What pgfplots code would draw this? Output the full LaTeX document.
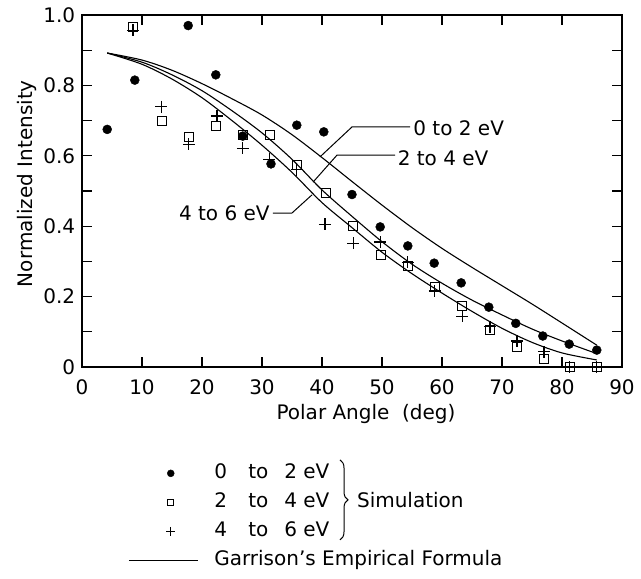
\documentclass[border=0pt]{standalone}
\usepackage{fontspec}
\setmainfont{DejaVu Sans}
\usepackage{pgfplots}
\pgfplotsset{compat=1.18}
\usetikzlibrary{decorations.pathreplacing}

% simulated intensities, three energy windows
\pgfplotstableread{
x y
4.2 0.675
8.8 0.815
17.7 0.970
22.3 0.830
26.8 0.656
31.5 0.577
35.8 0.687
40.3 0.668
45.0 0.490
49.7 0.398
54.3 0.344
58.7 0.295
63.2 0.239
67.8 0.170
72.3 0.124
76.8 0.088
81.2 0.065
85.8 0.048
}\lowE
\pgfplotstableread{
x y
8.5 0.966
13.3 0.700
17.8 0.652
22.3 0.685
26.8 0.658
31.3 0.660
35.8 0.574
40.7 0.494
45.2 0.400
49.8 0.318
54.3 0.286
58.8 0.226
63.3 0.173
68.0 0.104
72.5 0.057
77.0 0.023
81.3 0.000
85.8 0.000
}\midE
\pgfplotstableread{
x y
8.5 0.957
13.2 0.740
17.8 0.633
22.5 0.713
26.8 0.622
31.2 0.590
35.8 0.560
40.5 0.405
45.2 0.352
49.7 0.355
54.3 0.298
58.8 0.216
63.4 0.144
68.0 0.114
72.5 0.074
77.0 0.043
81.3 0.000
85.8 0.000
}\highE

\begin{document}
\fontsize{20}{24}\selectfont
\begin{tikzpicture}
\path[use as bounding box] (0,0) rectangle (641pt,579pt);
\begin{axis}[
  at={(82pt,212pt)}, anchor=south west,
  scale only axis, width=540pt, height=352pt,
  xmin=0, xmax=90, ymin=0, ymax=1,
  xtick={0,10,...,90},
  ytick={0,0.2,0.4,0.6,0.8,1.0},
  yticklabels={0,0.2,0.4,0.6,0.8,1.0},
  minor ytick={0.1,0.3,0.5,0.7,0.9},
  /pgf/number format/assume math mode=true,
  tick label style={font=\fontsize{20}{24}\selectfont},
  xticklabel style={yshift=-6pt},
  tick align=inside,
  major tick length=10pt, minor tick length=10pt,
  every tick/.style={black, line width=1.1pt},
  axis line style={line width=1.5pt},
  clip=false,
  xlabel={Polar Angle\ \ (deg)},
  ylabel={Normalized Intensity},
  label style={font=\fontsize{20}{24}\selectfont},
  xlabel style={at={(axis description cs:0.526,-0.134)}, anchor=center},
  ylabel style={at={(axis description cs:-0.102,0.521)}, anchor=center},
  legend style={at={(axis description cs:0.0852,-0.276)}, anchor=north west,
    draw=none, fill=none, inner sep=0pt, row sep=11pt, column sep=16pt,
    font=\fontsize{20}{24}\selectfont, cells={anchor=west},
    nodes={inner sep=0pt, text height=14pt, text depth=4pt}},
]

\addplot[only marks, mark=*, mark size=4.5pt, black,
  legend image code/.code={\draw[black, mark=*, mark size=3.5pt, only marks] plot coordinates {(8.5pt,0pt)};}]
  table[x=x, y=y] {\lowE};
\addlegendentry{\makebox[34pt][l]{0}\makebox[36pt][l]{to}2 eV}

\addplot[only marks, mark=square, mark size=4.5pt, black, mark options={line width=1pt},
  legend image code/.code={\draw[black, mark=square, mark size=3.2pt, only marks, line width=0.9pt] plot coordinates {(8.5pt,0pt)};}]
  table[x=x, y=y] {\midE};
\addlegendentry{\makebox[34pt][l]{2}\makebox[36pt][l]{to}4 eV}

\addplot[only marks, mark=+, mark size=6pt, black, mark options={line width=1.1pt},
  legend image code/.code={\draw[black, mark=+, mark size=4.5pt, only marks, line width=1pt] plot coordinates {(8.5pt,0pt)};}]
  table[x=x, y=y] {\highE};
\addlegendentry{\makebox[34pt][l]{4}\makebox[36pt][l]{to}6 eV}

% Garrison's empirical formula, 0 to 2 eV
\addplot[black, line width=1.1pt, smooth,
  legend image code/.code={\draw[black, line width=1.1pt] (-33.5pt,0pt) -- (35.5pt,0pt);}]
  coordinates {(4.2,0.892) (10,0.872) (15,0.843) (20,0.805) (25,0.762) (30,0.716)
    (35,0.660) (40,0.595) (45,0.527) (50,0.460) (55,0.396) (60,0.337) (65,0.283)
    (70,0.231) (75,0.179) (80,0.125) (85.8,0.062)};
\addlegendentry{Garrison's Empirical Formula}

% 2 to 4 eV
\addplot[black, line width=1.1pt, smooth, forget plot]
  coordinates {(4.2,0.892) (10,0.866) (15,0.830) (20,0.785) (25,0.728) (30,0.665)
    (35,0.590) (40,0.503) (45,0.428) (50,0.356) (55,0.292) (60,0.238) (65,0.190)
    (70,0.148) (75,0.108) (80,0.074) (85.8,0.038)};

% 4 to 6 eV
\addplot[black, line width=1.1pt, smooth, forget plot]
  coordinates {(4.2,0.892) (10,0.860) (15,0.818) (20,0.765) (25,0.700) (30,0.630)
    (35,0.553) (40,0.467) (45,0.396) (50,0.326) (55,0.265) (60,0.210) (65,0.158)
    (70,0.110) (75,0.070) (80,0.040) (85.8,0.020)};

% curve labels
\draw[line width=1pt] (axis cs:54.67,0.682) -- (axis cs:45,0.682) -- (axis cs:39.67,0.597);
\node[anchor=west, inner sep=0pt] at (axis cs:55.2,0.679) {0 to 2 eV};
\draw[line width=1pt] (axis cs:52.17,0.602) -- (axis cs:42.5,0.602) -- (axis cs:38.5,0.525);
\node[anchor=west, inner sep=0pt] at (axis cs:52.6,0.594) {2 to 4 eV};
\draw[line width=1pt] (axis cs:31.83,0.4375) -- (axis cs:35,0.4375) -- (axis cs:38.33,0.489);
\node[anchor=east, inner sep=0pt] at (axis cs:31.3,0.437) {4 to 6 eV};

% brace for the simulation entries
\draw[line width=1pt, decorate, decoration={brace, amplitude=8pt}]
  (axis description cs:0.4778,-0.264) -- (axis description cs:0.4778,-0.491);
\node[anchor=west, inner sep=0pt] at (axis description cs:0.509,-0.378) {Simulation};
\end{axis}
\end{tikzpicture}
\end{document}
